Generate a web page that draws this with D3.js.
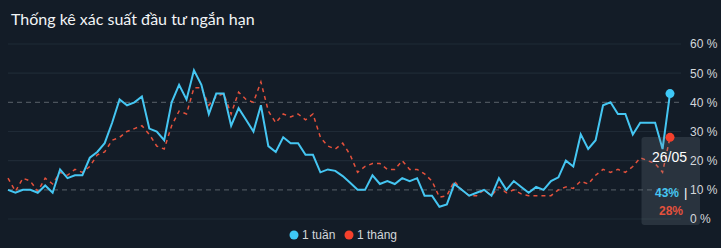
<!DOCTYPE html>
<html>
<head>
<meta charset="utf-8">
<script src="https://cdn.jsdelivr.net/npm/d3@7"></script>
<style>
  html, body { margin: 0; padding: 0; background: #131c27; }
  svg { display: block; }
</style>
</head>
<body>
<svg id="chart" width="721" height="248"></svg>
<script>
// xac suat 1 tuan / 1 thang, %, 90 phien
var week = [10, 9, 10, 10, 9, 11.5, 9, 17, 14, 15, 15, 21, 23, 26, 33, 41, 39, 40, 42, 31,
  30, 27, 40, 46, 41, 51, 46, 36, 43, 43, 32, 38, 34, 30, 39, 25, 23, 28, 26, 26,
  22, 22, 16, 17, 16.5, 14.7, 12.4, 10, 10, 15, 12, 13, 12, 14, 13, 14, 8, 8, 4.2, 5,
  12, 10, 8, 9, 10, 8, 14, 10, 13, 11, 9, 11, 10, 13, 14.3, 20, 18, 29, 24, 27,
  39, 40, 36, 36, 29, 33, 33, 33, 24, 43];
var month = [14, 9.5, 14, 13, 9.5, 14, 12, 16, 15, 17, 16, 18, 22, 23, 27, 28, 30, 31, 32, 29,
  25, 24, 32, 37, 36, 45, 45, 39, 42, 43, 36, 43.5, 41, 40, 47, 37, 33, 36, 35, 36,
  34, 36, 28, 25, 24, 26, 22, 16, 18, 19, 19, 17, 17, 20, 17, 17, 15.5, 13, 7.5, 8,
  13, 10, 8, 8, 10, 8, 11, 9, 10, 8.6, 8, 8, 8, 8, 10, 11, 10.5, 13, 12, 15,
  17, 16, 17, 16, 18, 21, 20, 19, 16, 28];
var yTicks = [0, 10, 20, 30, 40, 50, 60];
var dashedTicks = [10, 40];
var seriesNames = ['1 tuần', '1 tháng'];
var seriesColors = ['#45c6f2', '#e4513c'];
var dotColors = ['#3ec8f6', '#f4402c'];
var lastLabel = '26/05';

var svg = d3.select('#chart');

var x = d3.scaleLinear().domain([0, week.length - 1]).range([8, 670]);
var y = d3.scaleLinear().domain([0, 60]).range([219, 44]);

svg.append('text')
  .attr('x', 11)
  .attr('y', 25)
  .attr('fill', '#f2f4f6')
  .style('font-family', 'Lato, sans-serif')
  .style('font-size', '16px')
  .text('Thống kê xác suất đầu tư ngắn hạn');

// luoi
svg.append('g').selectAll('line')
  .data(yTicks)
  .enter().append('line')
  .attr('x1', 8)
  .attr('x2', 681)
  .attr('y1', function (d) { return y(d); })
  .attr('y2', function (d) { return y(d); })
  .attr('stroke', function (d) {
    return dashedTicks.indexOf(d) >= 0 ? '#4b535c' : '#1f2a36';
  })
  .attr('stroke-width', 1.2)
  .attr('stroke-dasharray', function (d) {
    return dashedTicks.indexOf(d) >= 0 ? '5,4' : null;
  });

var line = d3.line()
  .x(function (d, i) { return x(i); })
  .y(function (d) { return y(d); });

svg.append('path')
  .datum(month)
  .attr('d', line)
  .attr('fill', 'none')
  .attr('stroke', seriesColors[1])
  .attr('stroke-width', 1.5)
  .attr('stroke-dasharray', '4,4');

svg.append('path')
  .datum(week)
  .attr('d', line)
  .attr('fill', 'none')
  .attr('stroke', seriesColors[0])
  .attr('stroke-width', 2)
  .attr('stroke-linejoin', 'miter');

// tooltip
var last = week.length - 1;
var tip = svg.append('g');
tip.append('rect')
  .attr('x', 641.5)
  .attr('y', 137)
  .attr('width', 58.5)
  .attr('height', 88)
  .attr('rx', 3)
  .attr('fill', 'rgba(125,135,146,0.22)');
tip.append('text')
  .attr('x', 652)
  .attr('y', 162)
  .attr('fill', '#ffffff')
  .style('font-family', 'Liberation Sans, Arial, sans-serif')
  .style('font-size', '14px')
  .text(lastLabel);
tip.append('text')
  .attr('x', 655)
  .attr('y', 197)
  .attr('fill', seriesColors[0])
  .style('font-family', 'Liberation Sans, Arial, sans-serif')
  .style('font-size', '12px')
  .style('font-weight', 'bold')
  .text(Math.round(week[last]) + '%');
tip.append('text')
  .attr('x', 684)
  .attr('y', 197)
  .attr('fill', '#ffffff')
  .style('font-family', 'Liberation Sans, Arial, sans-serif')
  .style('font-size', '13px')
  .text('|');
tip.append('text')
  .attr('x', 659)
  .attr('y', 215)
  .attr('fill', seriesColors[1])
  .style('font-family', 'Liberation Sans, Arial, sans-serif')
  .style('font-size', '12px')
  .style('font-weight', 'bold')
  .text(Math.round(month[last]) + '%');

svg.append('circle')
  .attr('cx', x(last)).attr('cy', y(month[last])).attr('r', 4.5)
  .attr('fill', dotColors[1]);
svg.append('circle')
  .attr('cx', x(last)).attr('cy', y(week[last])).attr('r', 4.5)
  .attr('fill', dotColors[0]);

// truc y ben phai
var yAxis = d3.axisRight(y)
  .tickValues(yTicks)
  .tickSize(0)
  .tickPadding(0)
  .tickFormat(function (d) { return d + ' %'; });
var gy = svg.append('g')
  .attr('transform', 'translate(690,0)')
  .call(yAxis);
gy.select('.domain').remove();
gy.selectAll('text')
  .attr('fill', '#d4d7db')
  .style('font-family', 'Liberation Sans, Arial, sans-serif')
  .style('font-size', '12px');

// chu thich
var legend = svg.append('g').attr('transform', 'translate(294,235)');
var items = legend.selectAll('g')
  .data(seriesNames)
  .enter().append('g')
  .attr('transform', function (d, i) { return 'translate(' + (i * 55) + ',0)'; });
items.append('circle')
  .attr('r', 4.5)
  .attr('fill', function (d, i) { return dotColors[i]; });
items.append('text')
  .attr('x', 8)
  .attr('dy', '0.35em')
  .attr('fill', '#d4d7db')
  .style('font-family', 'Liberation Sans, Arial, sans-serif')
  .style('font-size', '12px')
  .text(function (d) { return d; });
</script>
</body>
</html>
